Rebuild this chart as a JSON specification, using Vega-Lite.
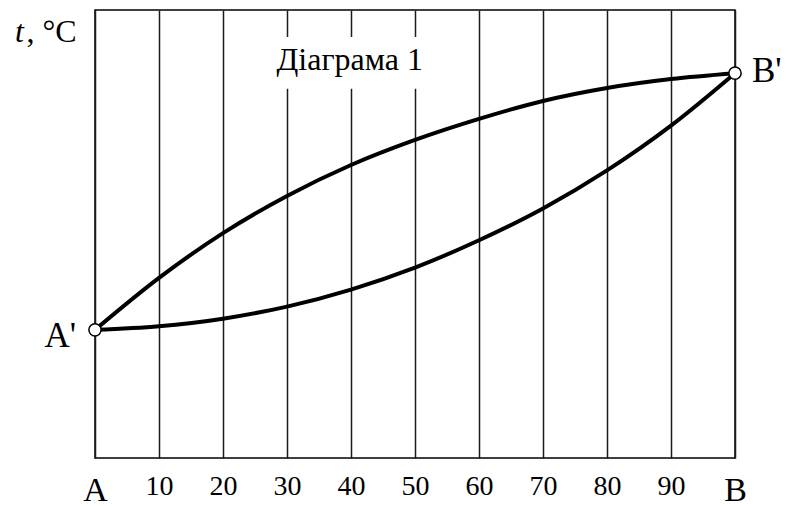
{
  "$schema": "https://vega.github.io/schema/vega-lite/v6.json",
  "width": 640,
  "height": 448,
  "autosize": "none",
  "padding": {"left": 95, "top": 10, "right": 51, "bottom": 48},
  "background": "white",
  "config": {
    "view": {"stroke": "black", "strokeWidth": 1.5},
    "font": "Liberation Serif"
  },
  "datasets": {
    "curves": [
      {"series": "upper", "x": 0, "t": 28.6},
      {"series": "upper", "x": 10, "t": 40.2},
      {"series": "upper", "x": 20, "t": 50.2},
      {"series": "upper", "x": 30, "t": 58.5},
      {"series": "upper", "x": 40, "t": 65.4},
      {"series": "upper", "x": 50, "t": 71.0},
      {"series": "upper", "x": 60, "t": 75.7},
      {"series": "upper", "x": 70, "t": 79.7},
      {"series": "upper", "x": 80, "t": 82.6},
      {"series": "upper", "x": 90, "t": 84.6},
      {"series": "upper", "x": 100, "t": 85.9},
      {"series": "lower", "x": 0, "t": 28.6},
      {"series": "lower", "x": 10, "t": 29.4},
      {"series": "lower", "x": 20, "t": 31.1},
      {"series": "lower", "x": 30, "t": 33.8},
      {"series": "lower", "x": 40, "t": 37.6},
      {"series": "lower", "x": 50, "t": 42.5},
      {"series": "lower", "x": 60, "t": 48.6},
      {"series": "lower", "x": 70, "t": 55.7},
      {"series": "lower", "x": 80, "t": 64.2},
      {"series": "lower", "x": 90, "t": 74.2},
      {"series": "lower", "x": 100, "t": 85.9}
    ],
    "ends": [
      {"name": "A'", "x": 0, "t": 28.6},
      {"name": "B'", "x": 100, "t": 85.9}
    ],
    "box": [
      {"x": 28, "x2": 52, "t": 94.0, "t2": 82.4, "label": "Діаграма 1", "xc": 39.8, "tb": 86.6}
    ],
    "ylab": [
      {"part": "t", "x": -12.5, "t": 92.9},
      {"part": ", °C", "x": -10.7, "t": 92.9}
    ]
  },
  "layer": [
    {
      "data": {"name": "box"},
      "mark": {"type": "rect", "fill": "white", "stroke": null},
      "encoding": {
        "x": {"field": "x", "type": "quantitative", "scale": {"domain": [0, 100], "nice": false},
          "axis": {
            "values": [0, 10, 20, 30, 40, 50, 60, 70, 80, 90, 100],
            "grid": true, "gridColor": "#1a1a1a", "gridWidth": 1.5, "gridOpacity": 1,
            "domain": false, "ticks": false, "tickSize": 0,
            "title": null,
            "labelExpr": "datum.value == 0 ? 'A' : datum.value == 100 ? 'B' : datum.label",
            "labelFont": "Liberation Serif",
            "labelColor": "black",
            "labelBaseline": "alphabetic",
            "labelFontSize": {"condition": {"test": "datum.value == 0 || datum.value == 100", "value": 34}, "value": 28},
            "labelPadding": {"condition": {"test": "datum.value == 0 || datum.value == 100", "value": 42}, "value": 36},
            "labelFlush": false,
            "labelOverlap": false
          }
        },
        "x2": {"field": "x2"},
        "y": {"field": "t", "type": "quantitative", "scale": {"domain": [0, 100], "nice": false}, "axis": null},
        "y2": {"field": "t2"}
      }
    },
    {
      "data": {"name": "box"},
      "mark": {"type": "text", "fontSize": 32, "font": "Liberation Serif", "baseline": "alphabetic", "align": "center", "color": "black"},
      "encoding": {
        "x": {"field": "xc", "type": "quantitative"},
        "y": {"field": "tb", "type": "quantitative"},
        "text": {"field": "label"}
      }
    },
    {
      "data": {"name": "curves"},
      "mark": {"type": "line", "interpolate": "monotone", "strokeWidth": 4, "color": "black"},
      "encoding": {
        "x": {"field": "x", "type": "quantitative"},
        "y": {"field": "t", "type": "quantitative"},
        "detail": {"field": "series"}
      }
    },
    {
      "data": {"name": "ends"},
      "mark": {"type": "point", "shape": "circle", "size": 150, "filled": true, "fill": "white", "stroke": "black", "strokeWidth": 1.5, "opacity": 1},
      "encoding": {
        "x": {"field": "x", "type": "quantitative"},
        "y": {"field": "t", "type": "quantitative"}
      }
    },
    {
      "data": {"name": "ends"},
      "transform": [{"filter": "datum.x == 0"}],
      "mark": {"type": "text", "fontSize": 35, "font": "Liberation Serif", "baseline": "alphabetic", "align": "right", "dx": -19, "dy": 17, "color": "black", "clip": false},
      "encoding": {
        "x": {"field": "x", "type": "quantitative"},
        "y": {"field": "t", "type": "quantitative"},
        "text": {"field": "name"}
      }
    },
    {
      "data": {"name": "ends"},
      "transform": [{"filter": "datum.x == 100"}],
      "mark": {"type": "text", "fontSize": 35, "font": "Liberation Serif", "baseline": "alphabetic", "align": "left", "dx": 17, "dy": 9, "color": "black", "clip": false},
      "encoding": {
        "x": {"field": "x", "type": "quantitative"},
        "y": {"field": "t", "type": "quantitative"},
        "text": {"field": "name"}
      }
    },
    {
      "data": {"name": "ylab"},
      "transform": [{"filter": "datum.part == 't'"}],
      "mark": {"type": "text", "fontSize": 32, "fontStyle": "italic", "font": "Liberation Serif", "baseline": "alphabetic", "align": "left", "color": "black", "clip": false},
      "encoding": {
        "x": {"field": "x", "type": "quantitative"},
        "y": {"field": "t", "type": "quantitative"},
        "text": {"field": "part"}
      }
    },
    {
      "data": {"name": "ylab"},
      "transform": [{"filter": "datum.part != 't'"}],
      "mark": {"type": "text", "fontSize": 32, "font": "Liberation Serif", "baseline": "alphabetic", "align": "left", "color": "black", "clip": false},
      "encoding": {
        "x": {"field": "x", "type": "quantitative"},
        "y": {"field": "t", "type": "quantitative"},
        "text": {"field": "part"}
      }
    }
  ]
}
